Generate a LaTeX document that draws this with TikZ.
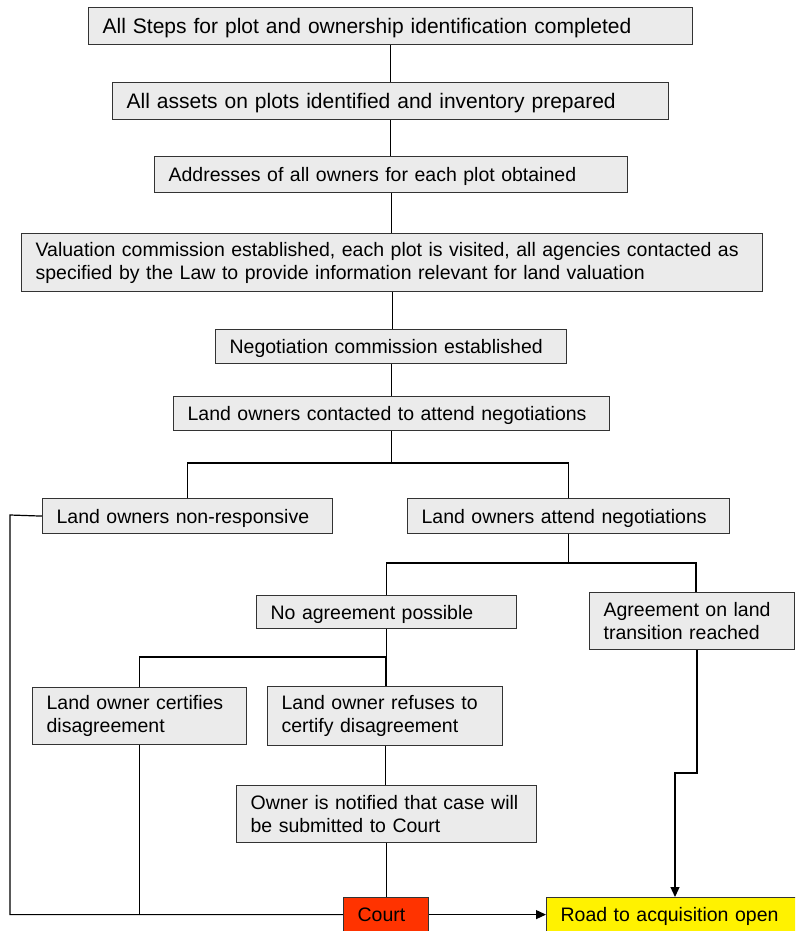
\documentclass[tikz,border=0pt]{standalone}
\usepackage{fontspec}
\setmainfont{Liberation Sans}
\usetikzlibrary{arrows.meta,calc}
\definecolor{courtred}{RGB}{255,51,0}
\tikzset{
  box/.style={draw=black!80, line width=1.2pt, fill=black!8, anchor=north west,
    inner xsep=14pt, inner ysep=0pt, align=left,
    font=\fontsize{19.5}{23}\selectfont},
  single/.style={text depth=0pt},
  bigtext/.style={font=\fontsize{21}{24}\selectfont},
  conn/.style={draw=black, line width=1.2pt},
  arr/.style={conn, -{Triangle[length=10pt,width=9pt]}}
}
\newcommand{\mybox}[7][]{% opts, name, x1, y1, x2, y2, text
  \node[box, #1, text width={#5-#3-28}, minimum height={#6-#4}] (#2) at (#3,#4) {#7};}
\begin{document}
\begin{tikzpicture}[x=1pt,y=-1pt]
\useasboundingbox (0,0) rectangle (795,931);
\clip (0,0) rectangle (795,931);
\mybox[bigtext,single]{n1}{88}{7}{692}{44}{All Steps for plot and ownership identification completed}
\mybox[bigtext,single]{n2}{112}{82}{668}{119}{All assets on plots identified and inventory prepared}
\mybox[single]{n3}{154}{156}{627}{192}{Addresses of all owners for each plot obtained}
\mybox{n4}{21}{233}{762}{291}{Valuation commission established, each plot is visited, all agencies contacted as\\specified by the Law to provide information relevant for land valuation}
\mybox[single]{n5}{215}{329}{566}{363}{Negotiation commission established}
\mybox[single]{n6}{173}{396}{609}{430}{Land owners contacted to attend negotiations}
\mybox[single]{n7}{42}{498}{332}{533}{Land owners non-responsive}
\mybox[single]{n8}{407}{498}{729}{533}{Land owners attend negotiations}
\mybox[single]{n9}{256}{595}{516}{628}{No agreement possible}
\mybox{n10}{589}{592}{794}{649}{Agreement on land\\transition reached}
\mybox{n11}{32}{687}{246}{744}{Land owner certifies\\disagreement}
\mybox{n12}{267}{686}{502}{745}{Land owner refuses to\\certify disagreement}
\mybox{n13}{236}{785}{536}{842}{Owner is notified that case will\\be submitted to Court}
\mybox[single,fill=courtred]{court}{343}{897}{428}{931}{Court}
\mybox[single,fill=yellow]{road}{546}{897}{802}{931}{Road to acquisition open}
% junctions
\coordinate (j1) at (391,463);
\coordinate (j2) at (568,563);
\coordinate (j3) at (696,563);
\coordinate (j4) at (386,657);
\coordinate (j5) at (10,515);
\coordinate (j6) at (697,773);
\coordinate (j7) at (675,773);
\draw[conn] (n1.south) -- (n1.south |- n2.north);
\draw[conn] (n2.south) -- (n2.south |- n3.north);
\draw[conn] (n3.south) -- (n3.south |- n4.north);
\draw[conn] (n4.south) -- (n4.south |- n5.north);
\draw[conn] (n5.south) -- (n5.south |- n6.north);
\draw[conn] (n6.south) -- (n6.south |- j1);
\draw[conn] (n7.north) |- (n8.north |- j1) -- (n8.north);
\draw[conn] (n8.south) -- (n8.south |- j2);
\draw[conn] (n9.north) |- (j3) -- (j3 |- n10.north);
\draw[conn] (n9.south) -- (n9.south |- j4);
\draw[conn] (n11.north) |- (j4) -- (j4 |- n12.north);
\draw[conn] (n12.south) -- (n12.south |- n13.north);
\draw[conn] (n13.south) -- (n13.south |- court.north);
\draw[conn] (n7.west) -- (j5) |- (court.west);
\draw[conn] (n11.south) -- (n11.south |- court.west);
\draw[arr] (court.east) -- (road.west);
\draw[arr] (n10.south -| j6) -- (j6) -- (j7) -- (j7 |- road.north);
\end{tikzpicture}
\end{document}
